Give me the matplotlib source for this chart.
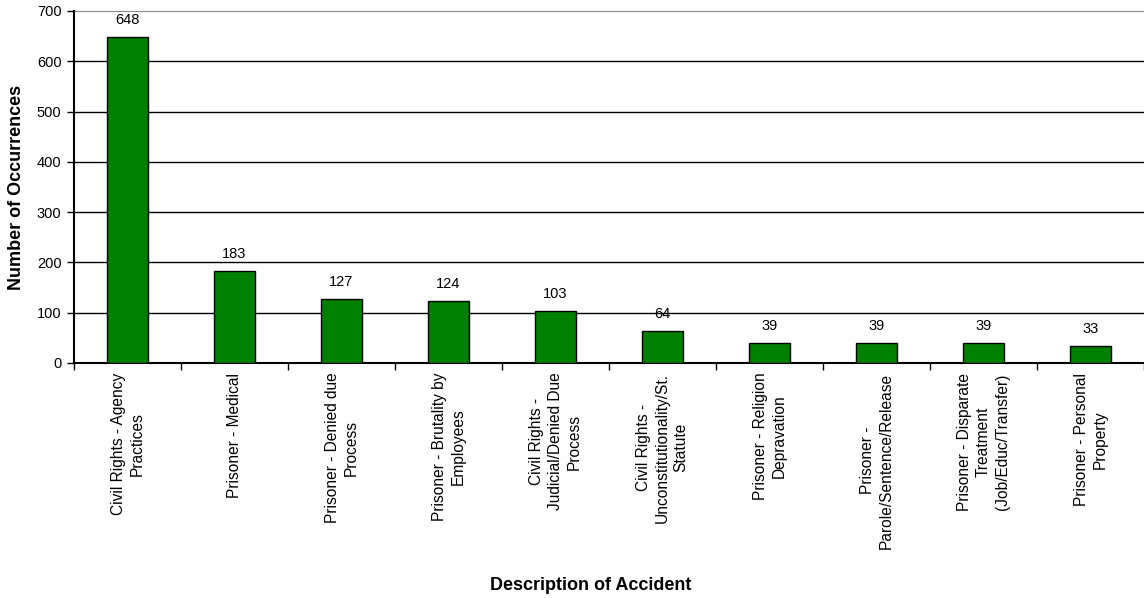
import numpy as np
import matplotlib.pyplot as plt

plt.rcParams['font.family'] = ['Liberation Sans', 'DejaVu Sans']

categories = [
    "Civil Rights - Agency\nPractices",
    "Prisoner - Medical",
    "Prisoner - Denied due\nProcess",
    "Prisoner - Brutality by\nEmployees",
    "Civil Rights -\nJudicial/Denied Due\nProcess",
    "Civil Rights -\nUnconstitutionality/St.\nStatute",
    "Prisoner - Religion\nDepravation",
    "Prisoner -\nParole/Sentence/Release",
    "Prisoner - Disparate\nTreatment\n(Job/Educ/Transfer)",
    "Prisoner - Personal\nProperty",
]
occurrences = [648, 183, 127, 124, 103, 64, 39, 39, 39, 33]

fig = plt.figure(figsize=(11.44, 5.98), dpi=100)
ax = fig.add_axes([74 / 1144, 1 - 363 / 598, 1070 / 1144, 352 / 598])

x = np.arange(len(categories))
bars = ax.bar(x, occurrences, width=0.39, color="#007f00", edgecolor="black",
              linewidth=1.0, zorder=3)

for b, v in zip(bars, occurrences):
    ax.text(b.get_x() + b.get_width() / 2, v + 20, str(v), ha="center",
            va="bottom", fontsize=10.5, color="black")

ax.set_xlim(-0.5, len(categories) - 0.5)
ax.set_ylim(0, 700)
ax.set_yticks(np.arange(0, 701, 100))
ax.yaxis.grid(True, color="black", linewidth=1.0, zorder=0)
ax.set_axisbelow(True)
ax.get_ygridlines()[-1].set_visible(False)
ax.tick_params(axis="y", labelsize=10.5, length=5, width=1, direction="out", pad=4)

# category names sit between boundary ticks
ax.set_xticks(x)
ax.set_xticklabels(categories, rotation=90, fontsize=11.2, ha="center",
                   va="top", multialignment="center", linespacing=1.3)
ax.tick_params(axis="x", length=0, pad=7)
ax.set_xticks(np.arange(len(categories) + 1) - 0.5, minor=True)
ax.tick_params(axis="x", which="minor", length=5, width=1, direction="out")

for side in ["top", "right"]:
    ax.spines[side].set_visible(False)
ax.spines["left"].set_linewidth(1.5)
ax.spines["bottom"].set_linewidth(1.5)
ax.axhline(700, color="#888888", linewidth=1.5, zorder=1)

fig.text(17 / 1144, 1 - 187 / 598, "Number of Occurrences", rotation=90,
         ha="center", va="center", fontsize=13, fontweight="bold")
fig.text(591 / 1144, 1 - 585 / 598, "Description of Accident",
         ha="center", va="center", fontsize=13, fontweight="bold")

fig.savefig("out.png", dpi=100)
